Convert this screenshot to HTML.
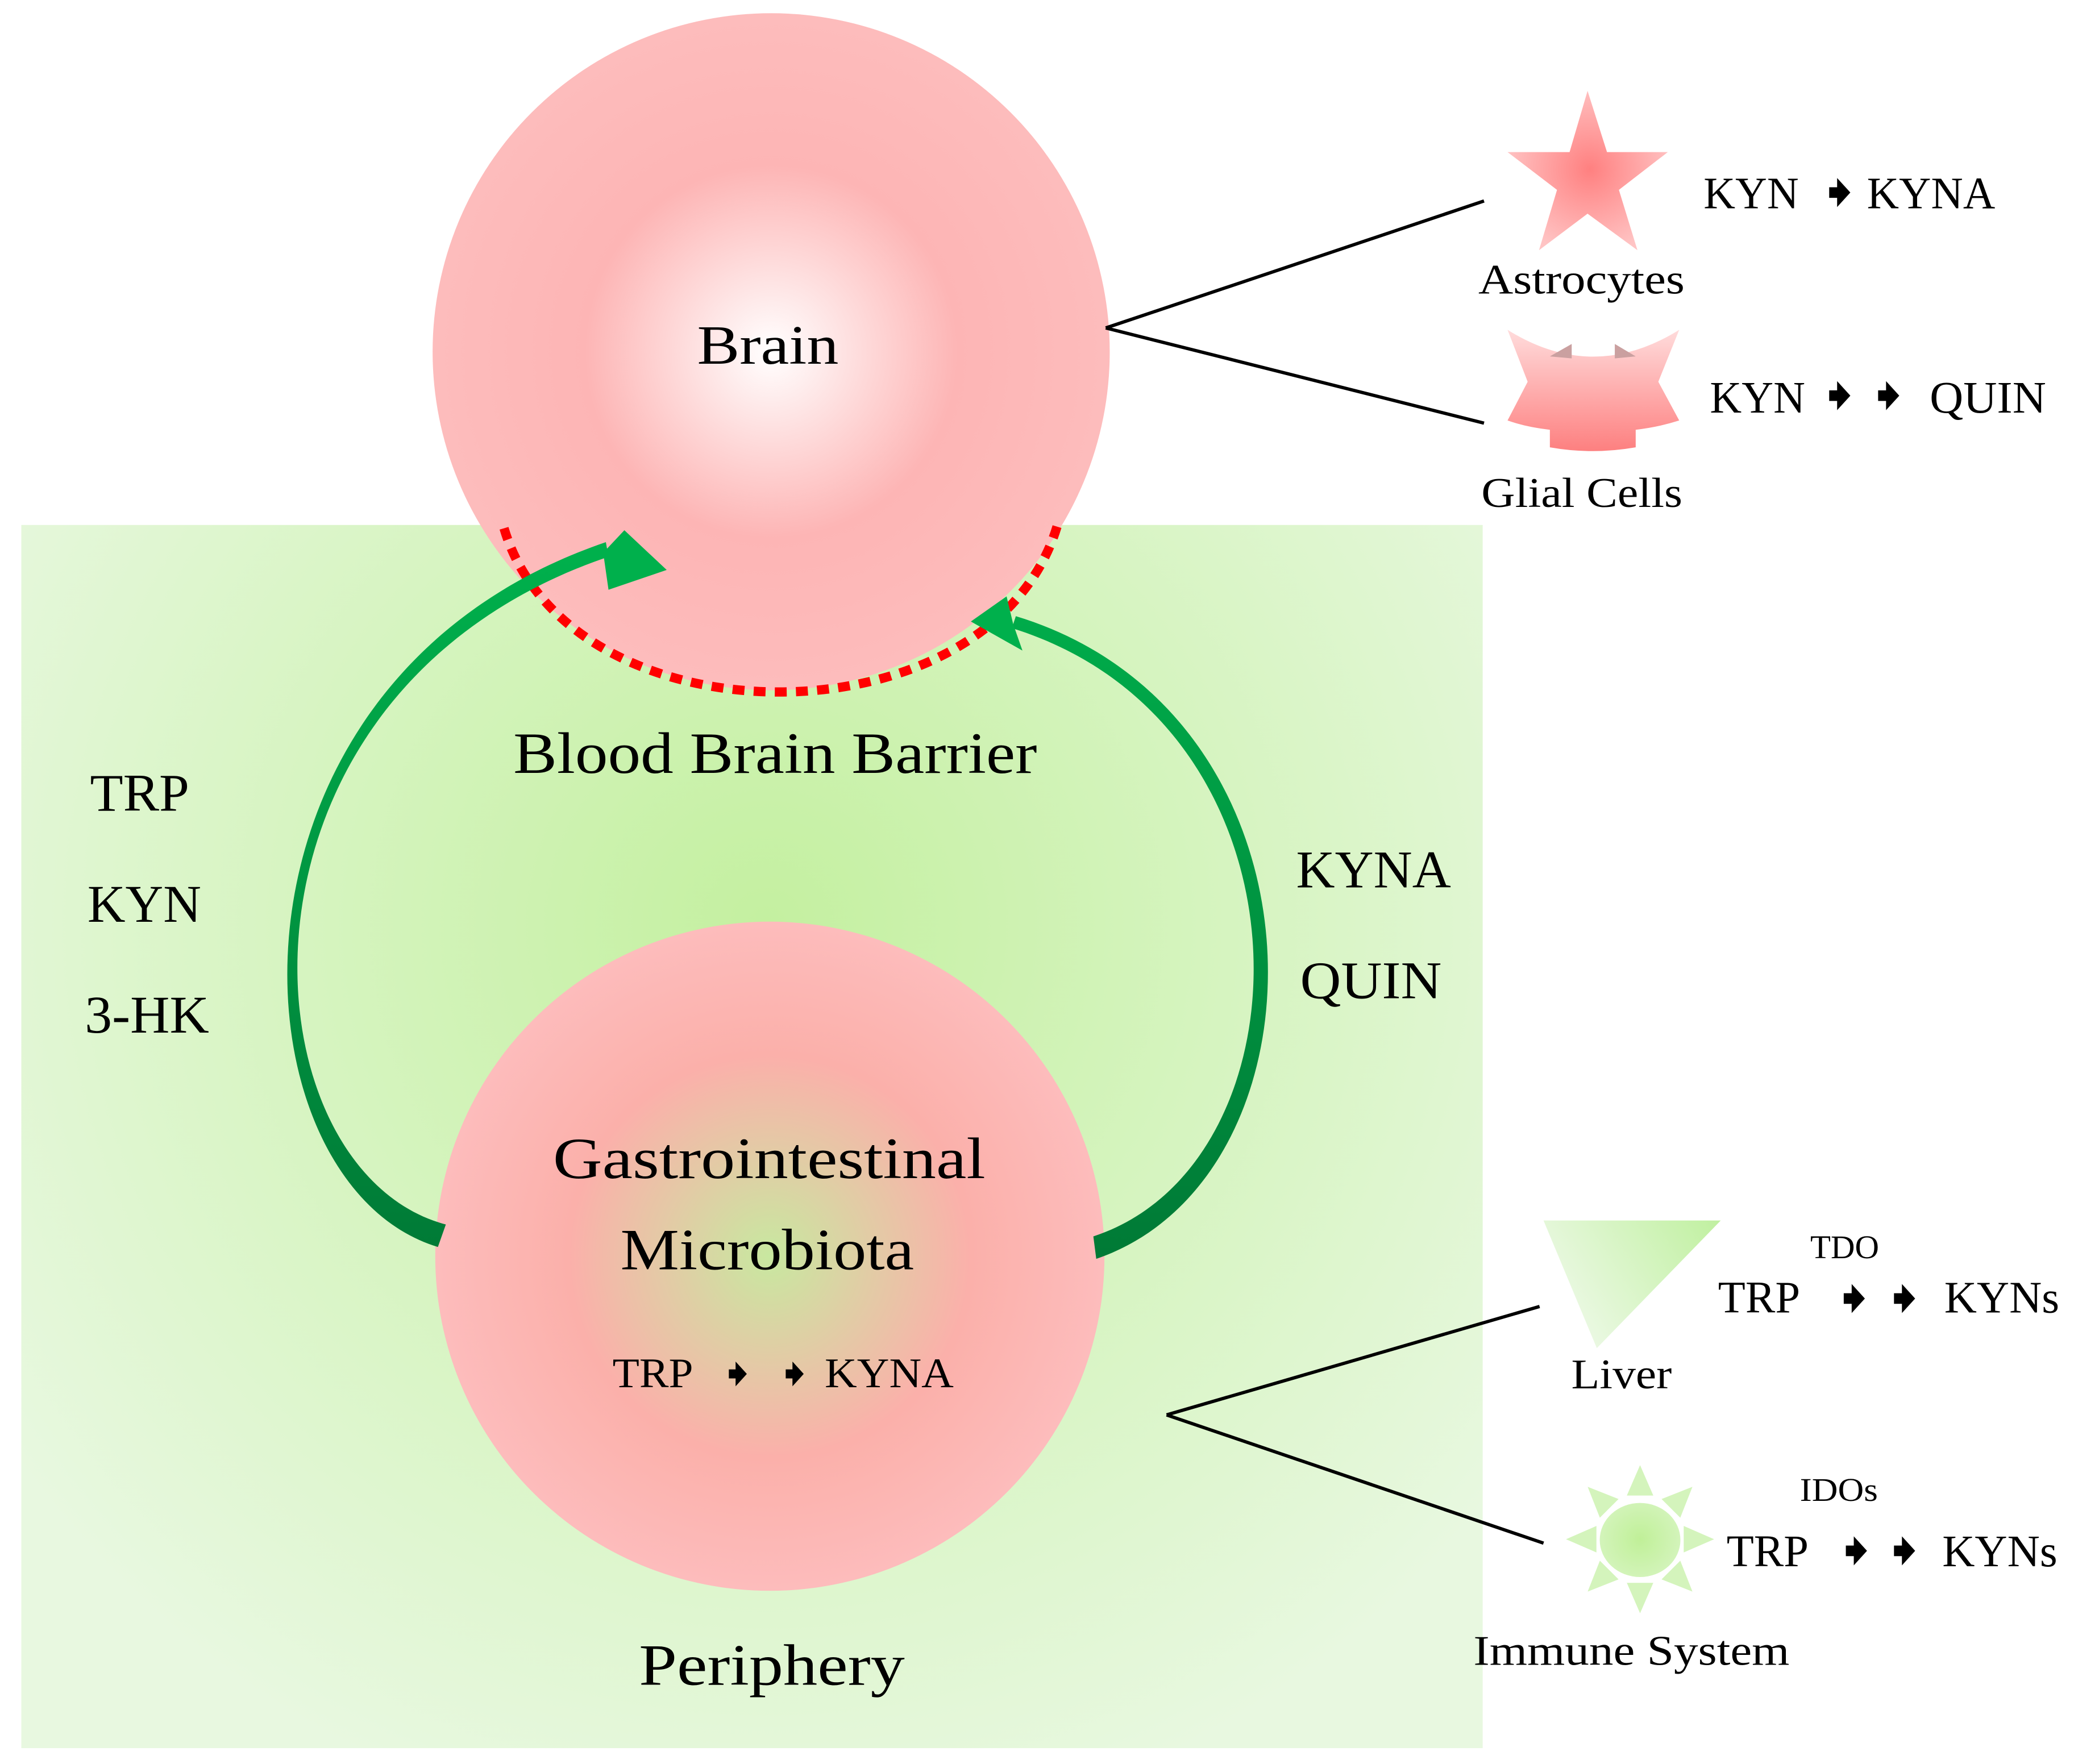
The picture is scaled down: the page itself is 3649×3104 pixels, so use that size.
<!DOCTYPE html>
<html><head><meta charset="utf-8"><style>html,body{margin:0;padding:0;background:#fff}svg{display:block}text{font-family:"Liberation Serif",serif;fill:#000}</style></head>
<body>
<svg width="3649" height="3104" viewBox="0 0 1568 1334" xmlns="http://www.w3.org/2000/svg">
<defs>
<radialGradient id="gbg" cx="580" cy="700" r="700" gradientUnits="userSpaceOnUse"><stop offset="0" stop-color="#c4f0a0"/><stop offset="1" stop-color="#e8f8e0"/></radialGradient>
<radialGradient id="gbrain" cx="583" cy="266" r="256" gradientUnits="userSpaceOnUse"><stop offset="0" stop-color="#ffffff"/><stop offset="0.55" stop-color="#fdb5b5"/><stop offset="1" stop-color="#fdbcbc"/></radialGradient>
<radialGradient id="ggi" cx="582" cy="950" r="253" gradientUnits="userSpaceOnUse"><stop offset="0" stop-color="#c8e8a0"/><stop offset="0.6" stop-color="#fbb0aa"/><stop offset="1" stop-color="#fdbcbc"/></radialGradient>
<linearGradient id="garr" x1="0" y1="950" x2="0" y2="420" gradientUnits="userSpaceOnUse"><stop offset="0" stop-color="#007a36"/><stop offset="1" stop-color="#00b04c"/></linearGradient>
<radialGradient id="gstar" cx="1202" cy="128" r="65" gradientUnits="userSpaceOnUse"><stop offset="0" stop-color="#ff8080"/><stop offset="1" stop-color="#ffc4c4"/></radialGradient>
<linearGradient id="gglial" x1="0" y1="249" x2="0" y2="341" gradientUnits="userSpaceOnUse"><stop offset="0" stop-color="#ffdcdc"/><stop offset="1" stop-color="#fd8080"/></linearGradient>
<linearGradient id="gliver" x1="1180" y1="1000" x2="1300" y2="923" gradientUnits="userSpaceOnUse"><stop offset="0" stop-color="#eef9e8"/><stop offset="1" stop-color="#c0f0a0"/></linearGradient>
<radialGradient id="gsun" cx="1240" cy="1164" r="32" gradientUnits="userSpaceOnUse"><stop offset="0" stop-color="#c0f098"/><stop offset="1" stop-color="#d4f4bc"/></radialGradient>
<path id="sa" d="M0,-4 L6,-4 L6,-11 L16,0 L6,11 L6,4 L0,4 Z"/>
</defs>

<rect x="16" y="397" width="1105" height="925" fill="url(#gbg)"/>
<circle cx="583" cy="266" r="256" fill="url(#gbrain)"/>
<path d="M381,399.5 C430,565 750,565 799.5,397" fill="none" stroke="#ff0000" stroke-width="7" stroke-dasharray="9,7"/>
<circle cx="582" cy="950" r="253" fill="url(#ggi)"/>

<!-- left arrow -->
<path d="M331,943 C172,895 150,515 458,410 L460,421 C157,524 182,885 337,926 Z" fill="url(#garr)"/>
<polygon points="504,431 472,401 456,418 460,446" fill="#00b04c"/>
<!-- right arrow -->
<path d="M828.8,952 C1010,890 1012,540 768,466 L765,475 C1000,548 995,880 826.6,935 Z" fill="url(#garr)"/>
<polygon points="734,470 761,451 766,472 773,492" fill="#00b04c"/>

<!-- lines -->
<g stroke="#000" stroke-width="2.5" fill="none">
<line x1="836" y1="248" x2="1122" y2="152"/>
<line x1="836" y1="248" x2="1122" y2="320"/>
<line x1="882" y1="1070" x2="1164" y2="988"/>
<line x1="882" y1="1070" x2="1167" y2="1167"/>
</g>

<!-- star -->
<polygon points="1200.3,68.7 1215,115 1261,115 1224,143.6 1238,189.2 1200.3,161.6 1163.6,189.2 1177.2,143.6 1139.8,115 1186.7,115" fill="url(#gstar)"/>
<!-- glial -->
<path d="M1139.8,249.4 Q1204.5,290 1269.6,249.4 L1253.8,288.7 L1269.6,318 Q1254,323 1236.7,325 L1236.7,338.3 Q1204,344 1171.8,338.3 L1171.8,325 Q1154,323 1139.8,318 L1155,288.7 Z" fill="url(#gglial)"/>
<polygon points="1171.8,269.5 1188.3,260.1 1188.3,271" fill="#caa0a0"/>
<polygon points="1220.9,260.1 1236.7,269.5 1220.9,271" fill="#caa0a0"/>
<!-- liver -->
<polygon points="1167,923 1301,923 1207.3,1019.5" fill="url(#gliver)"/>
<!-- sun -->
<g fill="#d4f4bc">
<g transform="translate(1240,1164)">
<polygon points="-10,-33 0,-56 10,-33"/>
<polygon points="-10,-33 0,-56 10,-33" transform="rotate(45)"/>
<polygon points="-10,-33 0,-56 10,-33" transform="rotate(90)"/>
<polygon points="-10,-33 0,-56 10,-33" transform="rotate(135)"/>
<polygon points="-10,-33 0,-56 10,-33" transform="rotate(180)"/>
<polygon points="-10,-33 0,-56 10,-33" transform="rotate(225)"/>
<polygon points="-10,-33 0,-56 10,-33" transform="rotate(270)"/>
<polygon points="-10,-33 0,-56 10,-33" transform="rotate(315)"/>
</g></g>
<ellipse cx="1240" cy="1164.6" rx="30.5" ry="28" fill="url(#gsun)"/>

<!-- main texts -->
<text x="527" y="275" font-size="42" textLength="107" lengthAdjust="spacingAndGlyphs">Brain</text>
<text x="388" y="584.5" font-size="44" textLength="396" lengthAdjust="spacingAndGlyphs">Blood Brain Barrier</text>
<text x="68" y="613" font-size="40" textLength="75" lengthAdjust="spacingAndGlyphs">TRP</text>
<text x="66" y="697" font-size="40" textLength="86" lengthAdjust="spacingAndGlyphs">KYN</text>
<text x="64" y="781" font-size="40" textLength="94" lengthAdjust="spacingAndGlyphs">3-HK</text>
<text x="980" y="671" font-size="40" textLength="117" lengthAdjust="spacingAndGlyphs">KYNA</text>
<text x="983" y="755" font-size="40" textLength="107" lengthAdjust="spacingAndGlyphs">QUIN</text>
<text x="418" y="891" font-size="44" textLength="327" lengthAdjust="spacingAndGlyphs">Gastrointestinal</text>
<text x="469" y="960" font-size="44" textLength="222" lengthAdjust="spacingAndGlyphs">Microbiota</text>
<text x="463" y="1049" font-size="32" textLength="61" lengthAdjust="spacingAndGlyphs">TRP</text>
<text x="623.5" y="1049" font-size="32" textLength="97.5" lengthAdjust="spacingAndGlyphs">KYNA</text>
<use href="#sa" transform="translate(551,1039) scale(0.85)"/>
<use href="#sa" transform="translate(594,1039) scale(0.85)"/>
<text x="483" y="1274" font-size="44" textLength="201" lengthAdjust="spacingAndGlyphs">Periphery</text>

<!-- right texts -->
<text x="1288" y="157.6" font-size="34" textLength="72" lengthAdjust="spacingAndGlyphs">KYN</text>
<use href="#sa" transform="translate(1383,145.6)"/>
<text x="1411.5" y="157.6" font-size="34" textLength="97" lengthAdjust="spacingAndGlyphs">KYNA</text>
<text x="1117.7" y="222" font-size="32" textLength="156" lengthAdjust="spacingAndGlyphs">Astrocytes</text>

<text x="1292.8" y="312" font-size="34" textLength="72" lengthAdjust="spacingAndGlyphs">KYN</text>
<use href="#sa" transform="translate(1383,299.2)"/>
<use href="#sa" transform="translate(1420,299.2)"/>
<text x="1459" y="312" font-size="34" textLength="88" lengthAdjust="spacingAndGlyphs">QUIN</text>
<text x="1120" y="383.4" font-size="32" textLength="152" lengthAdjust="spacingAndGlyphs">Glial Cells</text>

<text x="1368.7" y="951.6" font-size="25" textLength="52" lengthAdjust="spacingAndGlyphs">TDO</text>
<text x="1299" y="992.6" font-size="34" textLength="62" lengthAdjust="spacingAndGlyphs">TRP</text>
<use href="#sa" transform="translate(1394,982)"/>
<use href="#sa" transform="translate(1432,982)"/>
<text x="1470" y="992.6" font-size="34" textLength="87" lengthAdjust="spacingAndGlyphs">KYNs</text>
<text x="1188" y="1050" font-size="32" textLength="76" lengthAdjust="spacingAndGlyphs">Liver</text>

<text x="1360.8" y="1135" font-size="25" textLength="59" lengthAdjust="spacingAndGlyphs">IDOs</text>
<text x="1305.4" y="1184.5" font-size="34" textLength="62" lengthAdjust="spacingAndGlyphs">TRP</text>
<use href="#sa" transform="translate(1395.6,1172.8)"/>
<use href="#sa" transform="translate(1432,1172.8)"/>
<text x="1468.5" y="1184.5" font-size="34" textLength="87" lengthAdjust="spacingAndGlyphs">KYNs</text>
<text x="1114" y="1259" font-size="32" textLength="239" lengthAdjust="spacingAndGlyphs">Immune System</text>
</svg>
</body></html>
